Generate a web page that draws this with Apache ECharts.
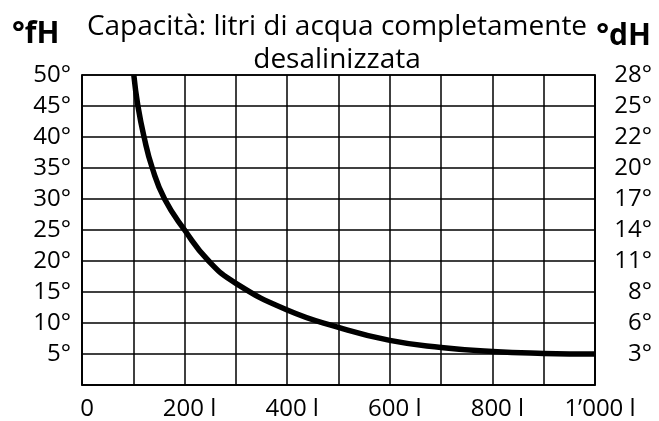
<!DOCTYPE html>
<html>
<head>
<meta charset="utf-8">
<script src="https://cdn.jsdelivr.net/npm/echarts@6/dist/echarts.min.js"></script>
<style>
html,body{margin:0;padding:0;background:#fff;}
#chart{width:659px;height:421px;}
</style>
</head>
<body>
<div id="chart"></div>
<script>
// Data
var litres = [101, 109, 121, 137, 161, 200, 247, 300, 400, 500, 600, 700, 800, 900, 1000];
var hardnessFH = [50, 45, 40, 35, 30, 25, 20, 16.4, 12.1, 9.3, 7.2, 6.06, 5.4, 5.1, 5.0];
var xTickLabels = ['0', '200 l', '400 l', '600 l', '800 l', '1\u2019000 l'];
var fhTickLabels = ['', '5°', '10°', '15°', '20°', '25°', '30°', '35°', '40°', '45°', '50°'];
var dhTickLabels = ['', '3°', '6°', '8°', '11°', '14°', '17°', '20°', '22°', '25°', '28°'];
var titleText = 'Capacità: litri di acqua completamente\ndesalinizzata';
var leftUnit = '°fH';
var rightUnit = '°dH';

var FONT = '"Open Sans", sans-serif';
var chart = echarts.init(document.getElementById('chart'), null, {renderer: 'canvas'});
var lineData = litres.map(function (x, i) { return [x, hardnessFH[i]]; });

var option = {
  animation: false,
  backgroundColor: '#fff',
  title: [
    {text: titleText, left: 332, textAlign: 'center', top: 6,
     textStyle: {fontFamily: FONT, fontSize: 28, fontWeight: 'normal', color: '#000', lineHeight: 33}},
    {text: leftUnit, left: 7, top: 14,
     textStyle: {fontFamily: FONT, fontSize: 30, fontWeight: 'bold', color: '#000'}},
    {text: rightUnit, right: 3, top: 16,
     textStyle: {fontFamily: FONT, fontSize: 30, fontWeight: 'bold', color: '#000'}}
  ],
  grid: {left: 82, right: 64, top: 75, bottom: 35, show: true, borderColor: '#000', borderWidth: 1.5},
  xAxis: {
    type: 'value', min: 0, max: 1000, interval: 100,
    axisLine: {show: true, lineStyle: {color: '#000', width: 1.5}},
    axisTick: {show: false},
    splitLine: {show: true, lineStyle: {color: '#000', width: 1.5}},
    axisLabel: {
      margin: 12, fontFamily: FONT, fontSize: 24, color: '#000', padding: [0, 0, 0, 10],
      formatter: function (v) { return v % 200 === 0 ? xTickLabels[v / 200] : ''; }
    }
  },
  yAxis: [
    {
      type: 'value', min: 0, max: 50, interval: 5, position: 'left',
      axisLine: {show: true, lineStyle: {color: '#000', width: 1.5}},
      axisTick: {show: false},
      splitLine: {show: true, lineStyle: {color: '#000', width: 1.5}},
      axisLabel: {
        margin: 11, fontFamily: FONT, fontSize: 24, color: '#000',
        formatter: function (v) { return fhTickLabels[Math.round(v / 5)]; }
      }
    },
    {
      type: 'value', min: 0, max: 50, interval: 5, position: 'right',
      axisLine: {show: true, lineStyle: {color: '#000', width: 1.5}},
      axisTick: {show: false},
      splitLine: {show: false},
      axisLabel: {
        margin: 57, align: 'right', fontFamily: FONT, fontSize: 24, color: '#000',
        formatter: function (v) { return dhTickLabels[Math.round(v / 5)]; }
      }
    }
  ],
  series: [{
    type: 'line', data: lineData, yAxisIndex: 0,
    smooth: 0.5, showSymbol: false,
    lineStyle: {color: '#000', width: 5.5}
  }]
};
chart.setOption(option);
</script>
</body>
</html>
